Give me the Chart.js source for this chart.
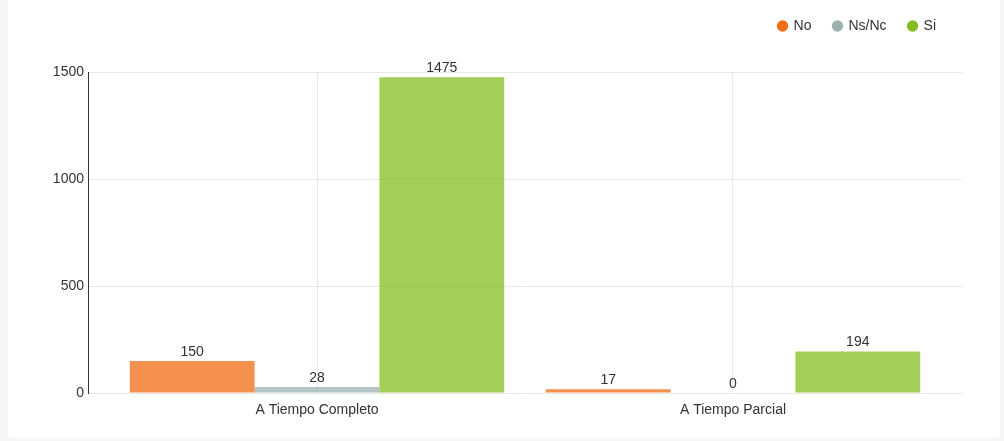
<!DOCTYPE html>
<html>
<head>
<meta charset="utf-8">
<script src="https://cdn.jsdelivr.net/npm/chart.js@4.4.0/dist/chart.umd.min.js"></script>
<style>
    html, body { margin: 0; padding: 0; background: #f7f7f7; }
    #card { position: absolute; left: 8px; top: 0; width: 992px; height: 438px; background: #fff; border-radius: 0 0 4px 4px; }
    canvas { display: block; }
</style>
</head>
<body>
<div id="card"><canvas id="chart" width="992" height="438"></canvas></div>
<script>
const categories = ['A Tiempo Completo', 'A Tiempo Parcial'];
const seriesNames = ['No', 'Ns/Nc', 'Si'];
const noValues = [150, 17];
const nsncValues = [28, 0];
const siValues = [1475, 194];
const yTicks = [0, 500, 1000, 1500];

const fontFamily = "'Liberation Sans', Arial, sans-serif";
const legendColors = ['#F26C14', '#9DB1B1', '#84BD22'];
const barColors = ['rgba(242, 108, 20, 0.75)', 'rgba(157, 177, 177, 0.75)', 'rgba(132, 189, 34, 0.75)'];

// numbers above the bars
const valueLabels = {
    id: 'valueLabels',
    afterDatasetsDraw(chart) {
        const ctx = chart.ctx;
        ctx.save();
        ctx.font = '14px ' + fontFamily;
        ctx.fillStyle = '#333';
        ctx.textAlign = 'center';
        ctx.textBaseline = 'alphabetic';
        chart.data.datasets.forEach((ds, i) => {
            chart.getDatasetMeta(i).data.forEach((bar, j) => {
                ctx.fillText(ds.data[j], bar.x, bar.y - 5);
            });
        });
        ctx.restore();
    }
};

// fixed legend block height so the plot starts where it should,
// and nudge the legend a bit to the left / down
const legendTweak = {
    id: 'legendTweak',
    beforeInit(chart) {
        const legend = chart.legend;
        const fit = legend.fit;
        legend.fit = function () {
            fit.call(this);
            this.height = 77;
        };
        const draw = legend.draw;
        legend.draw = function () {
            this.ctx.save();
            this.ctx.translate(-4, 2);
            draw.call(this);
            this.ctx.restore();
        };
    }
};

const datasets = [noValues, nsncValues, siValues].map((values, i) => ({
    label: seriesNames[i],
    data: values,
    backgroundColor: barColors[i],
    borderWidth: 0,
    categoryPercentage: 0.9,
    barPercentage: 1
}));

new Chart(document.getElementById('chart'), {
    type: 'bar',
    data: { labels: categories, datasets: datasets },
    options: {
        responsive: false,
        animation: false,
        layout: { padding: { top: -5, left: 45, right: 38, bottom: 20 } },
        plugins: {
            tooltip: { enabled: false },
            legend: {
                position: 'top',
                align: 'end',
                labels: {
                    usePointStyle: true,
                    pointStyle: 'circle',
                    boxWidth: 8,
                    boxHeight: 8,
                    padding: 22,
                    color: '#333',
                    font: { family: fontFamily, size: 14 },
                    generateLabels(chart) {
                        const items = Chart.defaults.plugins.legend.labels.generateLabels(chart);
                        items.forEach((item, i) => {
                            item.fillStyle = legendColors[i];
                            item.strokeStyle = legendColors[i];
                            item.lineWidth = 0;
                        });
                        return items;
                    }
                }
            }
        },
        scales: {
            x: {
                offset: true,
                grid: { offset: false, color: '#e8e8e8', drawTicks: false },
                border: { color: '#e8e8e8' },
                ticks: { color: '#333', padding: 9, font: { family: fontFamily, size: 14 } },
                // a little extra room at both ends of the category axis
                afterBuildTicks(scale) {
                    scale._startValue -= 0.0505;
                    scale._valueRange += 0.101;
                },
                afterFit(scale) { scale.height = 25; }
            },
            y: {
                min: 0,
                max: 1500,
                grid: { color: '#e8e8e8', drawTicks: false },
                border: { color: '#333', width: 1 },
                ticks: {
                    color: '#333',
                    padding: 4,
                    font: { family: fontFamily, size: 14 },
                    callback: (v) => String(v)
                },
                afterBuildTicks(scale) { scale.ticks = yTicks.map(v => ({ value: v })); },
                afterFit(scale) { scale.width = 35; }
            }
        }
    },
    plugins: [legendTweak, valueLabels]
});
</script>
</body>
</html>
